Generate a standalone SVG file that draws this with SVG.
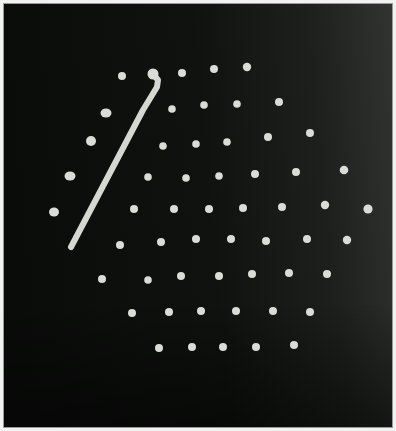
<svg xmlns="http://www.w3.org/2000/svg" width="396" height="431" viewBox="0 0 396 431">
<defs>
<linearGradient id="bg" x1="0" y1="0.2" x2="1" y2="0.1">
<stop offset="0" stop-color="#0a0c0a"/>
<stop offset="0.5" stop-color="#0f120f"/>
<stop offset="0.8" stop-color="#1d201d"/>
<stop offset="1" stop-color="#303330"/>
</linearGradient>
<linearGradient id="shade" x1="0" y1="0" x2="0" y2="1">
<stop offset="0" stop-color="#000" stop-opacity="0"/>
<stop offset="0.7" stop-color="#000" stop-opacity="0"/>
<stop offset="1" stop-color="#000" stop-opacity="0.5"/>
</linearGradient>
<style>
.d{fill:#d9ddd6}
.s{fill:none;stroke:#d4d8d1;stroke-width:6;stroke-linecap:round;stroke-linejoin:round}
</style>
</defs>
<rect width="396" height="431" fill="#f2f2f2"/>
<rect x="3" y="3" width="390" height="425" fill="url(#bg)"/>
<rect x="3" y="3" width="390" height="425" fill="url(#shade)"/>
<rect x="3.5" y="3.5" width="389" height="424" fill="none" stroke="#9a9a9a" stroke-width="1"/>
<g id="stroke">
<path class="s" d="M153,74 L158,80 L157,87 L143,110 L71,247"/>
<circle class="d" cx="153" cy="74" r="5.5"/>
</g>
<g id="dots">
<circle class="d" cx="122" cy="76" r="4"/>
<circle class="d" cx="182" cy="73" r="4"/>
<circle class="d" cx="214" cy="69" r="4"/>
<circle class="d" cx="247" cy="67" r="4.2"/>
<ellipse class="d" cx="106" cy="113" rx="5.5" ry="4.5"/>
<circle class="d" cx="172" cy="109" r="3.8"/>
<circle class="d" cx="204" cy="105" r="3.8"/>
<circle class="d" cx="237" cy="104" r="3.8"/>
<circle class="d" cx="279" cy="102" r="4"/>
<circle class="d" cx="91" cy="141" r="5"/>
<circle class="d" cx="163" cy="146" r="3.8"/>
<circle class="d" cx="196" cy="144" r="3.8"/>
<circle class="d" cx="227" cy="142" r="3.8"/>
<circle class="d" cx="268" cy="137" r="4"/>
<circle class="d" cx="310" cy="133" r="4"/>
<ellipse class="d" cx="70" cy="176" rx="5.5" ry="4.5"/>
<circle class="d" cx="148" cy="177" r="3.8"/>
<circle class="d" cx="186" cy="178" r="3.8"/>
<circle class="d" cx="219" cy="176" r="3.8"/>
<circle class="d" cx="255" cy="174" r="4"/>
<circle class="d" cx="296" cy="172" r="4"/>
<circle class="d" cx="344" cy="170" r="4.3"/>
<ellipse class="d" cx="54" cy="212" rx="5" ry="4.5"/>
<circle class="d" cx="134" cy="209" r="4"/>
<circle class="d" cx="174" cy="209" r="4"/>
<circle class="d" cx="209" cy="209" r="4"/>
<circle class="d" cx="243" cy="208" r="4"/>
<circle class="d" cx="282" cy="207" r="4"/>
<circle class="d" cx="325" cy="205" r="4.2"/>
<circle class="d" cx="368" cy="209" r="4.6"/>
<circle class="d" cx="120" cy="245" r="4"/>
<circle class="d" cx="161" cy="242" r="4"/>
<circle class="d" cx="196" cy="239" r="4"/>
<circle class="d" cx="231" cy="239" r="4"/>
<circle class="d" cx="266" cy="241" r="4"/>
<circle class="d" cx="307" cy="239" r="4"/>
<circle class="d" cx="347" cy="240" r="4.2"/>
<circle class="d" cx="102" cy="279" r="4"/>
<circle class="d" cx="148" cy="280" r="3.8"/>
<circle class="d" cx="181" cy="276" r="4"/>
<circle class="d" cx="219" cy="276" r="4"/>
<circle class="d" cx="252" cy="274" r="4"/>
<circle class="d" cx="289" cy="273" r="4"/>
<circle class="d" cx="327" cy="274" r="4"/>
<circle class="d" cx="132" cy="313" r="4"/>
<circle class="d" cx="169" cy="312" r="4"/>
<circle class="d" cx="201" cy="311" r="4"/>
<circle class="d" cx="236" cy="311" r="4"/>
<circle class="d" cx="273" cy="311" r="4"/>
<circle class="d" cx="310" cy="312" r="4"/>
<circle class="d" cx="159" cy="348" r="4"/>
<circle class="d" cx="192" cy="347" r="4"/>
<circle class="d" cx="223" cy="347" r="4"/>
<circle class="d" cx="256" cy="347" r="4"/>
<circle class="d" cx="294" cy="345" r="4"/>
</g>
</svg>
